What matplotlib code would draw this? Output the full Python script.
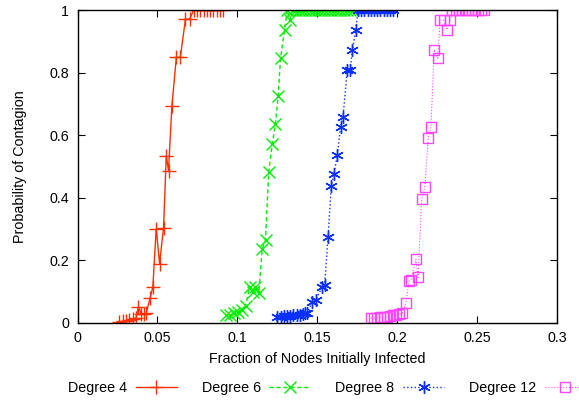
import numpy as np
from matplotlib import pyplot as plt

# degree 4
x4 = [0.0262, 0.0283, 0.0304, 0.0324, 0.0346, 0.0366, 0.0381, 0.0398, 0.0414, 0.0429,
      0.0454, 0.0471, 0.0492, 0.0513, 0.0538, 0.0555, 0.0569, 0.0590, 0.0618, 0.0643,
      0.0675, 0.0701, 0.0726, 0.0746, 0.0767, 0.0788, 0.0808, 0.0829, 0.0849, 0.0870,
      0.0890, 0.0910]
p4 = [0.003, 0.005, 0.007, 0.010, 0.013, 0.016, 0.052, 0.030, 0.028, 0.031,
      0.080, 0.115, 0.302, 0.190, 0.305, 0.535, 0.487, 0.693, 0.849, 0.849,
      0.971, 0.971, 1.0, 1.0, 1.0, 1.0, 1.0, 1.0, 1.0, 1.0,
      1.0, 1.0]

# degree 6
x6 = [0.0926, 0.0953, 0.0978, 0.1003, 0.1030, 0.1051, 0.1077, 0.1098, 0.1113, 0.1134,
      0.1155, 0.1176, 0.1196, 0.1218, 0.1238, 0.1255, 0.1270, 0.1295, 0.1312, 0.1328,
      0.1345, 0.1365, 0.1385, 0.1405, 0.1425, 0.1445, 0.1465, 0.1485, 0.1505, 0.1525,
      0.1545, 0.1565, 0.1585, 0.1605, 0.1625, 0.1645, 0.1665, 0.1685, 0.1705, 0.1725]
p6 = [0.026, 0.026, 0.031, 0.036, 0.042, 0.054, 0.116, 0.100, 0.114, 0.097,
      0.235, 0.265, 0.483, 0.572, 0.636, 0.725, 0.846, 0.936, 1.0, 0.968,
      1.0, 1.0, 1.0, 1.0, 1.0, 1.0, 1.0, 1.0, 1.0, 1.0,
      1.0, 1.0, 1.0, 1.0, 1.0, 1.0, 1.0, 1.0, 1.0, 1.0]

# degree 8
x8 = [0.1250, 0.1270, 0.1290, 0.1310, 0.1330, 0.1350, 0.1370, 0.1390, 0.1410, 0.1425,
      0.1437, 0.1469, 0.1489, 0.1531, 0.1546, 0.1567, 0.1588, 0.1604, 0.1625, 0.1646,
      0.1661, 0.1688, 0.1705, 0.1720, 0.1741, 0.1755, 0.1775, 0.1795, 0.1815, 0.1835,
      0.1855, 0.1875, 0.1895, 0.1915, 0.1935, 0.1955, 0.1975]
p8 = [0.018, 0.020, 0.021, 0.022, 0.023, 0.024, 0.025, 0.027, 0.029, 0.031,
      0.033, 0.068, 0.073, 0.115, 0.121, 0.274, 0.439, 0.475, 0.537, 0.627,
      0.659, 0.810, 0.810, 0.872, 0.938, 1.0, 1.0, 1.0, 1.0, 1.0,
      1.0, 1.0, 1.0, 1.0, 1.0, 1.0, 1.0]

# degree 12
x12 = [0.1834, 0.1855, 0.1875, 0.1895, 0.1915, 0.1935, 0.1955, 0.1975, 0.1995, 0.2013,
       0.2033, 0.2054, 0.2075, 0.2086, 0.2117, 0.2131, 0.2153, 0.2173, 0.2194, 0.2211,
       0.2232, 0.2253, 0.2269, 0.2290, 0.2311, 0.2332, 0.2346, 0.2366, 0.2386, 0.2406,
       0.2426, 0.2446, 0.2466, 0.2486, 0.2506, 0.2526, 0.2545]
p12 = [0.015, 0.016, 0.017, 0.018, 0.019, 0.020, 0.022, 0.024, 0.026, 0.028,
       0.031, 0.065, 0.134, 0.137, 0.203, 0.146, 0.396, 0.435, 0.590, 0.627,
       0.874, 0.846, 0.968, 0.968, 0.937, 0.968, 1.0, 1.0, 1.0, 1.0,
       1.0, 1.0, 1.0, 1.0, 1.0, 1.0, 1.0]

plt.rcParams['font.family'] = ['Liberation Sans', 'DejaVu Sans']
plt.rcParams['font.size'] = 10.3

fig = plt.figure(figsize=(5.79, 4.05), dpi=100)
ax = fig.add_axes([0.134, 0.2025, 0.828, 0.7725])

ax.plot(x4, p4, color='#ff3000', linestyle='-', linewidth=1, marker='+',
        markersize=10, markeredgewidth=1, label='Degree 4')
ax.plot(x6, p6, color='#00ee00', linestyle='--', dashes=(3, 2), linewidth=1, marker='x',
        markersize=8, markeredgewidth=1, label='Degree 6')
ax.plot(x8, p8, color='#0a2fff', linestyle=':', linewidth=1, marker=(6, 2, 0),
        markersize=9, markeredgewidth=1, label='Degree 8')
ax.plot(x12, p12, color='#ff44ff', linestyle=':', linewidth=0.8, marker='s',
        markersize=7, markerfacecolor='none', markeredgewidth=1, label='Degree 12')

ax.set_xlim(0, 0.3)
ax.set_ylim(0, 1)
ax.set_xticks([0, 0.05, 0.1, 0.15, 0.2, 0.25, 0.3])
ax.set_xticklabels(['0', '0.05', '0.1', '0.15', '0.2', '0.25', '0.3'])
ax.set_yticks([0, 0.2, 0.4, 0.6, 0.8, 1])
ax.set_yticklabels(['0', '0.2', '0.4', '0.6', '0.8', '1'])
ax.tick_params(direction='in', top=True, right=True, length=5, width=0.8, pad=6)
for s in ax.spines.values():
    s.set_linewidth(1)
ax.set_xlabel('Fraction of Nodes Initially Infected', labelpad=5)
ax.set_ylabel('Probability of Contagion', labelpad=16)

fig.legend(loc='lower left', bbox_to_anchor=(68 / 579, 0.025), ncol=4, frameon=False,
           markerfirst=False, numpoints=1, handlelength=2.87, columnspacing=1.75,
           handletextpad=0.6, borderpad=0, borderaxespad=0)

plt.savefig('out.png', dpi=100)
